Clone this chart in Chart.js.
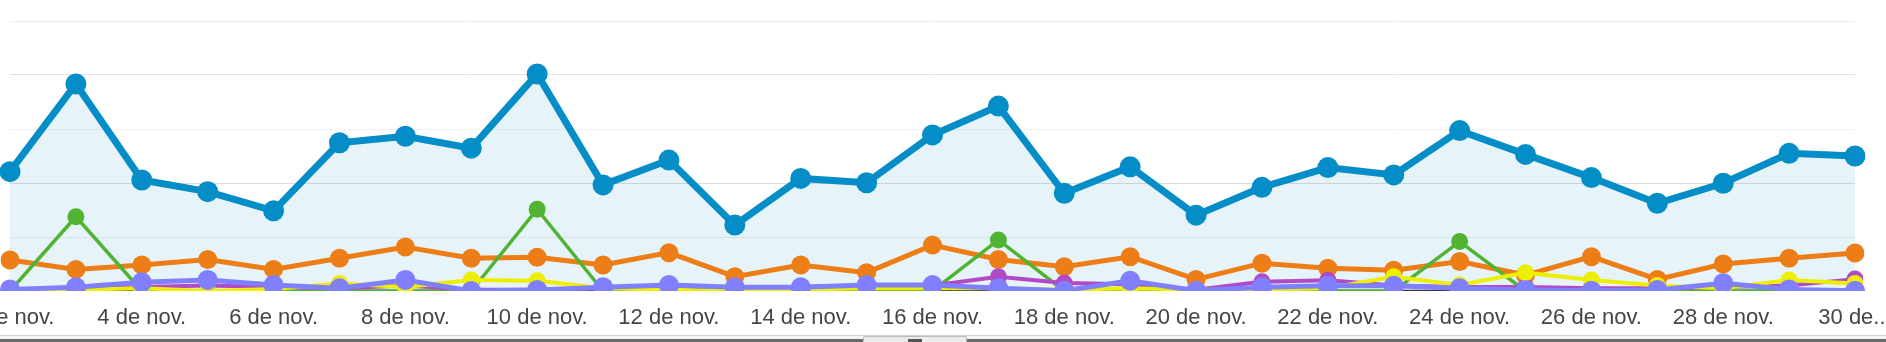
<!DOCTYPE html>
<html lang="es">
<head>
<meta charset="utf-8">
<title>Sesiones por día</title>
<script src="https://cdn.jsdelivr.net/npm/chart.js@4/dist/chart.umd.min.js"></script>
<style>
  html, body { margin: 0; padding: 0; background: #fff; }
  body { position: relative; width: 1886px; height: 342px; overflow: hidden; }
  #grafico { position: absolute; left: -100px; top: 0; }
  .barra { position: absolute; left: 0; width: 1886px; }
  .linea { top: 335px; height: 1px; background: #cfcfcf; }
  .hueco { top: 336px; height: 3px; background: #f5f5f5; }
  .fondo { top: 339px; height: 3px; background: #6a6a6a; }
  .pulgar { position: absolute; left: 863px; top: 336px; width: 102px; height: 6px;
            background: #ececec; border: 1px solid #bdbdbd; border-bottom: none; border-radius: 2px 2px 0 0; }
  .muesca { position: absolute; left: 908px; top: 339px; width: 14px; height: 3px; background: #555; }
</style>
</head>
<body>
<canvas id="grafico" width="2086" height="342"></canvas>
<div class="barra linea"></div>
<div class="barra hueco"></div>
<div class="barra fondo"></div>
<div class="pulgar"></div>
<div class="muesca"></div>
<script>
;(() => {
  'use strict';

  // días de noviembre
  const dias = [2, 3, 4, 5, 6, 7, 8, 9, 10, 11, 12, 13, 14, 15, 16, 17, 18, 19, 20, 21, 22, 23, 24, 25, 26, 27, 28, 29, 30];
  const categorias = dias.map(d => d + ' de nov.');
  const etiquetaFinal = '30 de...';

  const azul = [44.2, 76.7, 41.1, 36.8, 29.7, 54.9, 57.3, 52.9, 80.4, 39.3, 48.5, 24.4, 41.7, 40.1, 57.8,
    68.5, 36.2, 46.0, 28.1, 38.4, 45.7, 43.0, 59.4, 50.6, 42.0, 32.5, 39.9, 51.0, 50.0];
  const naranja = [11.5, 8.0, 9.6, 11.7, 8.0, 12.1, 16.3, 12.1, 12.5, 9.6, 14.2, 5.3, 9.6, 6.8, 17.0,
    11.7, 9.0, 12.7, 4.3, 10.3, 8.4, 7.7, 10.9, 5.9, 12.7, 4.3, 10.0, 12.1, 14.1];
  const verde = [0, 27.5, 0, 0, 0, 0, 0, 0, 30.3, 0, 0, 0, 0, 0, 0,
    18.9, 0, 0, 0, 0, 0, 0, 18.3, 0, 0, 0, 0, 0, 0];
  const lila = [0.6, 1.4, 3.2, 4.1, 2.2, 1.0, 4.1, 0, 0.4, 1.4, 2.2, 1.4, 1.4, 2.2, 2.2,
    1.0, 0.1, 3.8, 0.1, 1.4, 1.9, 1.9, 1.0, 0.4, 0.1, 0.4, 2.9, 0.6, 0.1];
  const amarillo = [0, 0.5, 1.0, 0, 0.7, 2.8, 1.5, 4.1, 3.8, 1.0, 0.5, 0, 0.5, 1.0, 1.0,
    1.0, 0.5, 1.0, 0.5, 0.5, 1.0, 5.3, 2.2, 6.8, 4.1, 2.0, 1.0, 4.1, 2.8];
  const morado = [0, 0.5, 1.5, 2.0, 1.5, 1.0, 2.0, 0.5, 0.5, 1.0, 1.5, 1.0, 1.5, 2.0, 2.0,
    5.3, 3.0, 2.5, 0.5, 3.4, 4.0, 2.0, 1.5, 1.5, 1.0, 1.0, 1.5, 2.0, 4.4];
  const oscuro = dias.map(() => 0);

  // marcas del eje vertical (sin texto) y tono de cada línea de cuadrícula
  const marcasY = [0, 20, 40, 60, 80, 100];
  const tonosRejilla = ['rgba(0,0,0,0)', '#ececec', '#dcdcdc', '#f0f0f0', '#e2e2e2', '#ececec'];

  const serie = (data, color, ancho, radio, orden, extra = {}) => Object.assign({
    data,
    borderColor: color,
    backgroundColor: color,
    borderWidth: ancho,
    pointRadius: radio,
    pointHoverRadius: radio,
    pointBackgroundColor: color,
    pointBorderWidth: 0,
    tension: 0,
    fill: false,
    order: orden
  }, extra);

  const ctx = document.getElementById('grafico').getContext('2d');

  new Chart(ctx, {
    type: 'line',
    data: {
      labels: categorias,
      datasets: [
        serie(azul, '#058dc7', 7, 10.5, 1, { fill: 'origin', backgroundColor: 'rgba(5, 141, 199, 0.1)' }),
        serie(lila, '#8080ff', 5, 10, 2),
        serie(amarillo, '#edef00', 4, 8.5, 3),
        serie(morado, '#b04ac6', 4, 8.5, 4),
        serie(verde, '#50b432', 3.5, 8.5, 5),
        serie(naranja, '#ed7e17', 5, 9.5, 6),
        serie(oscuro, '#333333', 2.5, 0, 7)
      ]
    },
    options: {
      responsive: false,
      animation: false,
      layout: {
        padding: { left: 110, right: 131, top: 21, bottom: 0 }
      },
      plugins: {
        legend: { display: false },
        tooltip: { enabled: false },
        filler: { drawTime: 'beforeDatasetsDraw' }
      },
      scales: {
        x: {
          grid: { display: false },
          border: { display: false },
          ticks: {
            autoSkip: false,
            maxRotation: 0,
            padding: 6,
            color: '#454545',
            font: { family: 'Liberation Sans, Arial, sans-serif', size: 22 },
            callback: (value, index) => {
              if (dias[index] % 2 !== 0) return null;
              return index === dias.length - 1 ? etiquetaFinal : categorias[index];
            }
          },
          afterFit: scale => { scale.height = 51; }
        },
        y: {
          min: 0,
          max: 100,
          afterBuildTicks: scale => { scale.ticks = marcasY.map(value => ({ value })); },
          ticks: { display: false },
          border: { display: false },
          grid: {
            drawTicks: false,
            lineWidth: 1,
            color: c => tonosRejilla[c.index] || '#e6e6e6'
          },
          afterFit: scale => { scale.width = 0; }
        }
      }
    }
  });
})();
</script>
</body>
</html>
